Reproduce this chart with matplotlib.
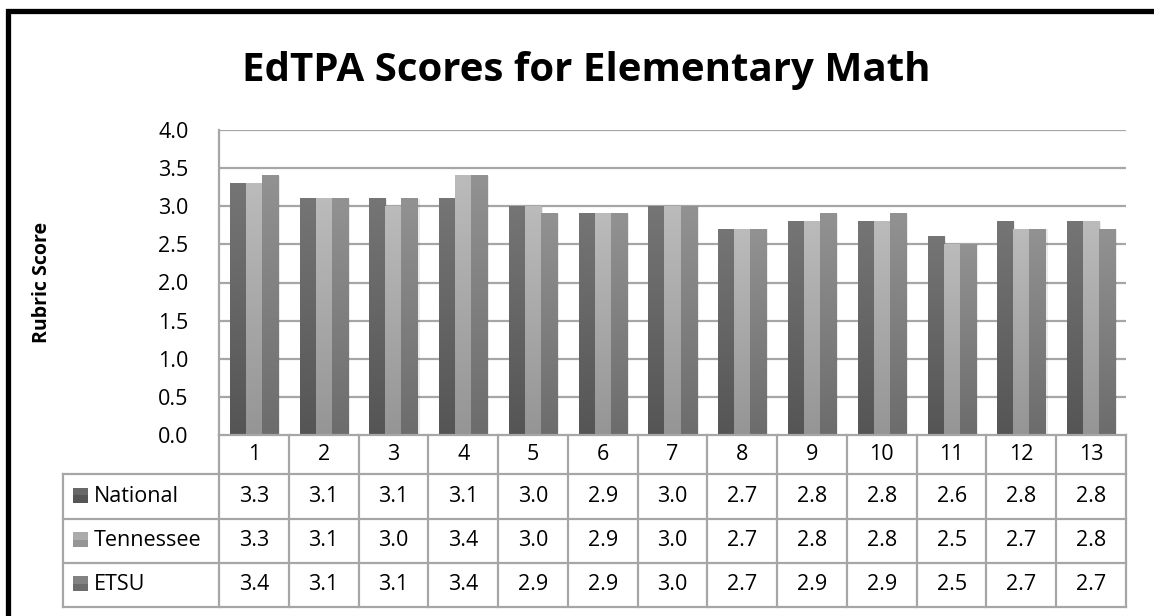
import numpy as np
import matplotlib
matplotlib.use('Agg')
import matplotlib.pyplot as plt
from matplotlib.lines import Line2D
from matplotlib.patches import Rectangle
from matplotlib.colors import LinearSegmentedColormap
from matplotlib.transforms import blended_transform_factory

# data
rubrics = [str(i) for i in range(1, 14)]
series_names = ['National', 'Tennessee', 'ETSU']
national = [3.3, 3.1, 3.1, 3.1, 3.0, 2.9, 3.0, 2.7, 2.8, 2.8, 2.6, 2.8, 2.8]
tennessee = [3.3, 3.1, 3.0, 3.4, 3.0, 2.9, 3.0, 2.7, 2.8, 2.8, 2.5, 2.7, 2.8]
etsu = [3.4, 3.1, 3.1, 3.4, 2.9, 2.9, 3.0, 2.7, 2.9, 2.9, 2.5, 2.7, 2.7]
y_ticks = [0.0, 0.5, 1.0, 1.5, 2.0, 2.5, 3.0, 3.5, 4.0]

# (bottom, top) gradient colours per series
shades = [('#555555', '#757575'), ('#959595', '#bbbbbb'), ('#6c6c6c', '#929292')]
grid_col = '#a6a6a6'

plt.rcParams['font.family'] = ['Open Sans', 'DejaVu Sans']

W, H = 1154, 616
fig = plt.figure(figsize=(W / 100, H / 100), dpi=100)
fig.patch.set_facecolor('white')

# plot area in pixels
px_l, px_r, px_t, px_b = 219, 1126, 130, 435
ax = fig.add_axes([px_l / W, 1 - px_b / H, (px_r - px_l) / W, (px_b - px_t) / H])

x = np.arange(1, len(rubrics) + 1)
bw = 0.23
for i, vals in enumerate([national, tennessee, etsu]):
    cmap = LinearSegmentedColormap.from_list('g%d' % i, shades[i])
    grad = np.linspace(0, 1, 128).reshape(-1, 1)
    for xi, v in zip(x, vals):
        x0 = xi + (i - 1) * bw - bw / 2
        # faint shadow on the right
        ax.add_patch(Rectangle((x0 + 0.03, 0), bw, v, facecolor='#000000',
                               alpha=0.08, edgecolor='none', zorder=2))
        ax.imshow(grad, cmap=cmap, origin='lower', aspect='auto',
                  extent=[x0, x0 + bw, 0, v], zorder=3, interpolation='bilinear')

ax.set_xlim(0.5, len(rubrics) + 0.5)
ax.set_ylim(0, 4.0)
ax.set_yticks(y_ticks)
ax.set_yticklabels(['%.1f' % t for t in y_ticks], fontsize=15.5)
ax.set_xticks([])
ax.tick_params(axis='y', length=0, pad=22)
for t in y_ticks[1:]:
    ax.axhline(t, color=grid_col, linewidth=1.6, zorder=1)
for s in ['top', 'right', 'bottom']:
    ax.spines[s].set_visible(False)
ax.spines['left'].set_color(grid_col)
ax.spines['left'].set_linewidth(1.6)

ax.set_ylabel('Rubric Score', fontsize=14, fontweight='bold')
ax.yaxis.set_label_coords(-0.184, 0.5)

fig.text(0.508, 1 - 70 / H, 'EdTPA Scores for Elementary Math', ha='center', va='center',
         fontsize=29, fontweight='bold')

# data table under the plot
rows_y = [435, 474, 519, 563, 607]  # pixel row boundaries
leg_left = 63
tr = blended_transform_factory(ax.transData, fig.transFigure)
fy = lambda p: 1 - p / H

def fline(xs, ys, trans):
    fig.add_artist(Line2D(xs, ys, transform=trans, color=grid_col, linewidth=1.6,
                          solid_capstyle='projecting'))

# horizontal lines
fline([0.5, len(rubrics) + 0.5], [fy(rows_y[0])] * 2, tr)
fline([0.5, len(rubrics) + 0.5], [fy(rows_y[1])] * 2, tr)
for r in rows_y[2:]:
    fline([leg_left / W, px_r / W], [fy(r)] * 2, fig.transFigure)
fline([leg_left / W, px_l / W], [fy(rows_y[1])] * 2, fig.transFigure)
# vertical lines
for k in range(len(rubrics) + 1):
    fline([k + 0.5, k + 0.5], [fy(rows_y[0]), fy(rows_y[-1])], tr)
fline([leg_left / W, leg_left / W], [fy(rows_y[1]), fy(rows_y[-1])], fig.transFigure)

# header row
for xi, lab in zip(x, rubrics):
    fig.text(xi, fy((rows_y[0] + rows_y[1]) / 2), lab, transform=tr, ha='center',
             va='center', fontsize=15.5)
# value rows
for r, (name, vals) in enumerate(zip(series_names, [national, tennessee, etsu])):
    yc = fy((rows_y[r + 1] + rows_y[r + 2]) / 2)
    fig.add_artist(Rectangle((73 / W, yc - 6 / H), 15 / W, 15 / H, transform=fig.transFigure,
                             facecolor=shades[r][0], edgecolor='none'))
    fig.add_artist(Rectangle((73 / W, yc + 1.5 / H), 15 / W, 7.5 / H, transform=fig.transFigure,
                             facecolor=shades[r][1], edgecolor='none', alpha=0.6))
    fig.text(94 / W, yc, name, ha='left', va='center', fontsize=15.5)
    for xi, v in zip(x, vals):
        fig.text(xi, yc, '%.1f' % v, transform=tr, ha='center', va='center', fontsize=15.5)

# black frame on left and top edges
fig.add_artist(Line2D([7.5 / W, 7.5 / W, 1.0], [0.0, 1 - 10.5 / H, 1 - 10.5 / H],
                      transform=fig.transFigure, color='black', linewidth=3.8,
                      solid_joinstyle='miter'))

fig.savefig('out.png', dpi=100, facecolor='white')
